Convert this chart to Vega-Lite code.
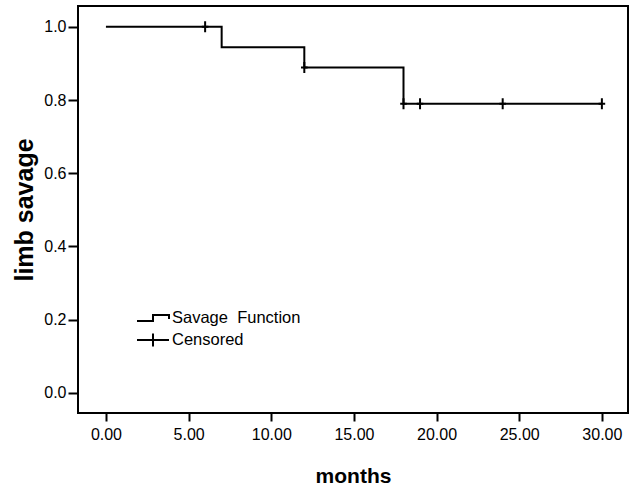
{
  "$schema": "https://vega.github.io/schema/vega-lite/v6.json",
  "width": 550,
  "height": 407,
  "autosize": "none",
  "padding": {"left": 78, "top": 6, "right": 4, "bottom": 74},
  "background": "white",
  "config": {
    "view": {"stroke": "black", "strokeWidth": 2},
    "font": "Liberation Sans",
    "axis": {
      "labelFont": "Liberation Sans",
      "labelFontSize": 16,
      "labelColor": "black",
      "tickColor": "black",
      "tickWidth": 2,
      "domain": false,
      "grid": false,
      "titleFont": "Liberation Sans",
      "titleFontWeight": "bold",
      "titleColor": "black"
    },
    "legend": {
      "labelFont": "Liberation Sans",
      "labelFontSize": 16.5,
      "labelColor": "black"
    }
  },
  "datasets": {
    "curve": [
      {"months": 0, "survival": 1.0},
      {"months": 7, "survival": 0.944},
      {"months": 12, "survival": 0.889},
      {"months": 18, "survival": 0.79},
      {"months": 30, "survival": 0.79}
    ],
    "censored": [
      {"months": 6, "survival": 1.0, "type": "Censored"},
      {"months": 12, "survival": 0.889, "type": "Censored"},
      {"months": 18, "survival": 0.79, "type": "Censored"},
      {"months": 19, "survival": 0.79, "type": "Censored"},
      {"months": 24, "survival": 0.79, "type": "Censored"},
      {"months": 30, "survival": 0.79, "type": "Censored"}
    ]
  },
  "layer": [
    {
      "data": {"name": "curve"},
      "mark": {"type": "line", "interpolate": "step-after", "color": "black", "strokeWidth": 2},
      "encoding": {
        "x": {
          "field": "months", "type": "quantitative",
          "scale": {"domain": [-1.69, 31.58], "nice": false, "zero": false},
          "axis": {"values": [0, 5, 10, 15, 20, 25, 30], "format": ".2f", "tickSize": 8, "labelPadding": 5, "title": "months", "titleFontSize": 21, "titlePadding": 23}
        },
        "y": {
          "field": "survival", "type": "quantitative",
          "scale": {"domain": [-0.055, 1.057], "nice": false, "zero": false},
          "axis": {"values": [0, 0.2, 0.4, 0.6, 0.8, 1.0], "format": ".1f", "tickSize": 10, "labelPadding": 2, "title": "limb savage", "titleFontSize": 25, "titlePadding": 6}
        }
      }
    },
    {
      "data": {"name": "censored"},
      "mark": {"type": "point", "filled": false, "color": "black", "strokeWidth": 2, "size": 121, "opacity": 1, "shape": "M-0.6,0H0.6M0,-1V1"},
      "encoding": {
        "x": {"field": "months", "type": "quantitative"},
        "y": {"field": "survival", "type": "quantitative"}
      }
    },
    {
      "data": {"name": "censored"},
      "mark": {"type": "point", "filled": false, "color": "black", "strokeWidth": 2, "opacity": 0},
      "encoding": {
        "x": {"field": "months", "type": "quantitative"},
        "y": {"field": "survival", "type": "quantitative"},
        "shape": {
          "field": "type", "type": "nominal",
          "scale": {"domain": ["Savage Function", "Censored"], "range": ["M-1.6,0.3H0V-0.3H1.6V0.1", "M-1.6,0H1.6M0,-0.65V0.65"]},
          "legend": {
            "title": null,
            "orient": "none",
            "legendX": 64,
            "legendY": 301,
            "padding": 0,
            "symbolSize": 400,
            "symbolOpacity": 1,
            "symbolStrokeWidth": 2,
            "symbolStrokeColor": "black",
            "symbolFillColor": "transparent",
            "labelOffset": 8,
            "rowPadding": 2,
            "labelExpr": "datum.label == 'Savage Function' ? 'Savage\u00a0\u00a0Function' : datum.label"
          }
        }
      }
    }
  ]
}
